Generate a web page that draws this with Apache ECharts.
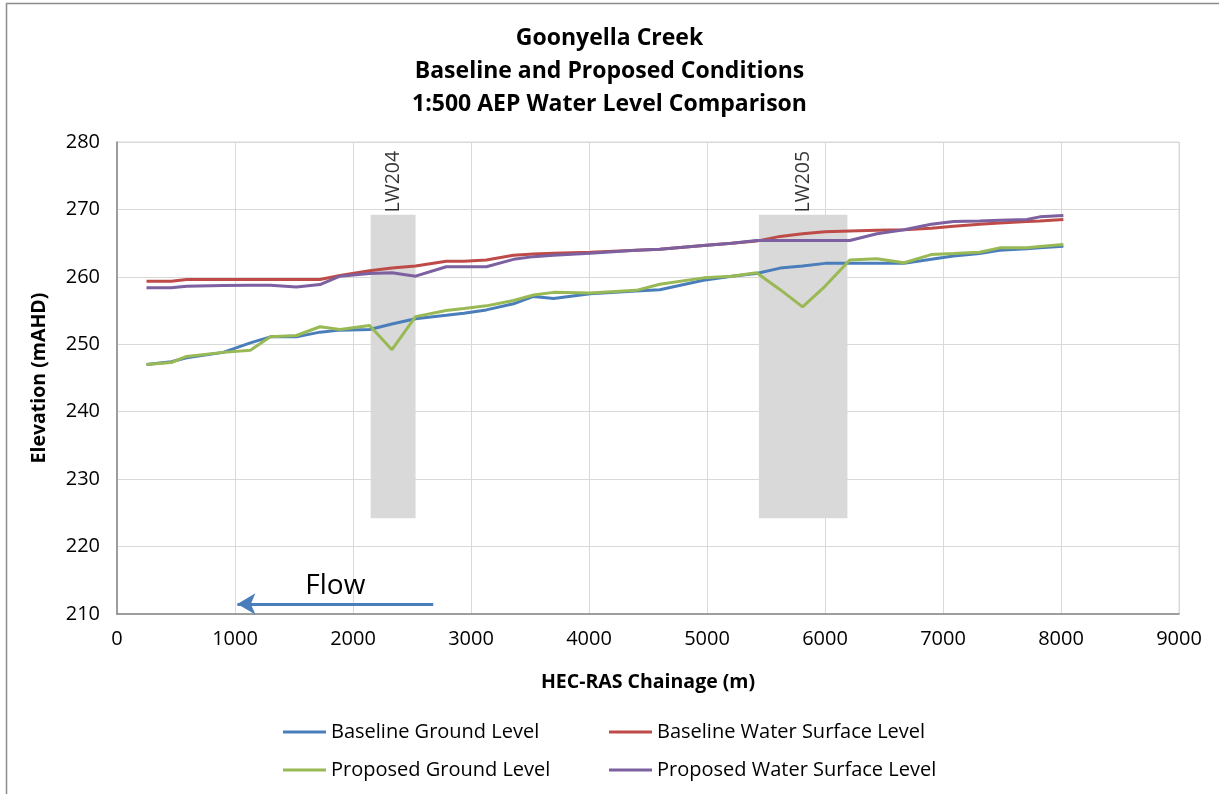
<!DOCTYPE html>
<html>
<head>
<meta charset="utf-8">
<script src="https://cdn.jsdelivr.net/npm/echarts@6/dist/echarts.min.js"></script>
<style>
html,body{margin:0;padding:0;background:#fff;}
#chart{width:1219px;height:794px;}
</style>
</head>
<body>
<div id="chart"></div>
<script>
// Chainage (m)
const chainage = [250, 460, 590, 900, 1130, 1300, 1520, 1720, 1890, 2140, 2330, 2530, 2790, 2940, 3130, 3360, 3530, 3700, 4010, 4400, 4600, 4970, 5210, 5420, 5620, 5810, 6000, 6210, 6440, 6670, 6900, 7090, 7310, 7480, 7710, 7820, 8020];
const baselineGround = [247.0, 247.4, 248.0, 248.8, 250.2, 251.1, 251.1, 251.8, 252.1, 252.2, 253.0, 253.8, 254.3, 254.6, 255.1, 256.0, 257.1, 256.8, 257.5, 257.9, 258.1, 259.5, 260.1, 260.5, 261.3, 261.6, 262.0, 262.0, 262.0, 262.0, 262.6, 263.1, 263.45, 263.95, 264.15, 264.3, 264.55];
const baselineWater = [259.35, 259.35, 259.6, 259.6, 259.6, 259.6, 259.6, 259.6, 260.2, 260.9, 261.3, 261.6, 262.3, 262.3, 262.5, 263.2, 263.4, 263.5, 263.65, 263.95, 264.1, 264.65, 265.0, 265.3, 266.0, 266.4, 266.7, 266.8, 266.9, 267.0, 267.2, 267.5, 267.8, 268.0, 268.2, 268.3, 268.5];
const proposedGround = [247.0, 247.3, 248.2, 248.8, 249.1, 251.1, 251.3, 252.6, 252.2, 252.8, 249.2, 254.1, 255.0, 255.3, 255.7, 256.5, 257.3, 257.7, 257.6, 258.0, 258.9, 259.85, 260.1, 260.6, 258.1, 255.55, 258.6, 262.5, 262.7, 262.1, 263.3, 263.45, 263.65, 264.3, 264.3, 264.5, 264.8];
const proposedWater = [258.4, 258.4, 258.6, 258.7, 258.75, 258.75, 258.5, 258.85, 260.1, 260.5, 260.6, 260.1, 261.5, 261.5, 261.5, 262.6, 263.0, 263.2, 263.5, 263.95, 264.1, 264.65, 265.0, 265.4, 265.4, 265.4, 265.4, 265.4, 266.4, 267.0, 267.8, 268.2, 268.3, 268.4, 268.5, 268.9, 269.1];

// Longwall panel zones
const panelNames = ['LW204', 'LW205'];
const panelStart = [2150, 5440];
const panelEnd = [2530, 6190];
const panelBottom = 224.2;
const panelTop = 269.2;

// Flow arrow
const flowFrom = 2680, flowTo = 1020, flowLevel = 211.5;

const titleLines = ['Goonyella Creek', 'Baseline and Proposed Conditions', '1:500 AEP Water Level Comparison'];
const seriesNames = ['Baseline Ground Level', 'Baseline Water Surface Level', 'Proposed Ground Level', 'Proposed Water Surface Level'];
const seriesValues = [baselineGround, baselineWater, proposedGround, proposedWater];
const seriesColors = ['#4a7ebb', '#be4b48', '#98b954', '#7d60a0'];

const FONT = '"Open Sans", "DejaVu Sans", sans-serif';

const chart = echarts.init(document.getElementById('chart'), null, {renderer: 'canvas'});

const lineSeries = seriesNames.map((n, i) => ({
  name: n,
  type: 'line',
  data: chainage.map((c, j) => [c, seriesValues[i][j]]),
  symbol: 'none',
  showSymbol: false,
  lineStyle: {color: seriesColors[i], width: 3},
  itemStyle: {color: seriesColors[i]},
  z: 3
}));

const legendPos = [[283, 722], [609, 722], [283, 760], [609, 760]];
const legends = seriesNames.map((n, i) => ({
  data: [n],
  left: legendPos[i][0], top: legendPos[i][1],
  padding: 0,
  icon: 'rect',
  itemWidth: 43, itemHeight: 3,
  textStyle: {fontFamily: FONT, fontSize: 20, color: '#000'}
}));

const option = {
  animation: false,
  backgroundColor: '#fff',
  textStyle: {fontFamily: FONT},
  title: {
    text: titleLines.join('\n'),
    left: 'center',
    top: 17,
    textStyle: {fontFamily: FONT, fontSize: 23, fontWeight: 'bold', color: '#000', lineHeight: 33}
  },
  grid: {left: 117, right: 40, top: 142, bottom: 180, show: true, borderColor: '#d9d9d9', borderWidth: 1},
  legend: legends,
  xAxis: {
    type: 'value', min: 0, max: 9000, interval: 1000,
    name: 'HEC-RAS Chainage (m)', nameLocation: 'middle', nameGap: 58,
    nameTextStyle: {fontFamily: FONT, fontSize: 19.5, fontWeight: 'bold', color: '#000'},
    axisLine: {show: true, lineStyle: {color: '#868686', width: 1.5}},
    axisTick: {show: false},
    axisLabel: {fontFamily: FONT, fontSize: 20, color: '#000', margin: 15, formatter: v => String(v)},
    splitLine: {show: true, lineStyle: {color: '#d9d9d9', width: 1}}
  },
  yAxis: {
    type: 'value', min: 210, max: 280, interval: 10,
    name: 'Elevation (mAHD)', nameLocation: 'middle', nameGap: 68, nameRotate: 90,
    nameTextStyle: {fontFamily: FONT, fontSize: 19.5, fontWeight: 'bold', color: '#000'},
    axisLine: {show: true, lineStyle: {color: '#868686', width: 1.5}},
    axisTick: {show: false},
    axisLabel: {fontFamily: FONT, fontSize: 20, color: '#000', margin: 17},
    splitLine: {show: true, lineStyle: {color: '#d9d9d9', width: 1}}
  },
  series: [
    {
      name: 'panels', type: 'line', data: [], symbol: 'none', silent: true, z: 1,
      markArea: {
        silent: true,
        itemStyle: {color: '#d9d9d9'},
        label: {show: false},
        data: panelNames.map((n, i) => [
          {xAxis: panelStart[i], yAxis: panelBottom},
          {xAxis: panelEnd[i], yAxis: panelTop}
        ])
      }
    },
    {
      name: 'panelLabels', type: 'scatter', symbolSize: 0, silent: true, z: 4,
      data: panelNames.map((n, i) => ({name: n, value: [(panelStart[i] + panelEnd[i]) / 2, panelTop + 0.35]})),
      label: {
        show: true, formatter: '{b}', position: [0, 0], rotate: 90,
        align: 'left', verticalAlign: 'middle',
        fontFamily: FONT, fontSize: 19.5, color: '#000'
      }
    },
    {
      name: 'flow', type: 'line', data: [], symbol: 'none', silent: true, z: 4,
      markLine: {
        silent: true,
        symbol: ['none', 'arrow'],
        symbolSize: [16, 18],
        lineStyle: {color: '#4a7ebb', width: 3, type: 'solid'},
        label: {show: true, formatter: 'Flow', position: 'insideMiddleTop', distance: 4,
                fontFamily: FONT, fontSize: 28, color: '#000'},
        data: [[{coord: [flowFrom, flowLevel]}, {coord: [flowTo, flowLevel]}]]
      }
    }
  ].concat(lineSeries),
  graphic: [
    {type: 'rect', shape: {x: 6.5, y: 3.5, width: 1240, height: 820}, style: {fill: 'none', stroke: '#8c8c8c', lineWidth: 1.5}, silent: true}
  ]
};
chart.setOption(option);
</script>
</body>
</html>
